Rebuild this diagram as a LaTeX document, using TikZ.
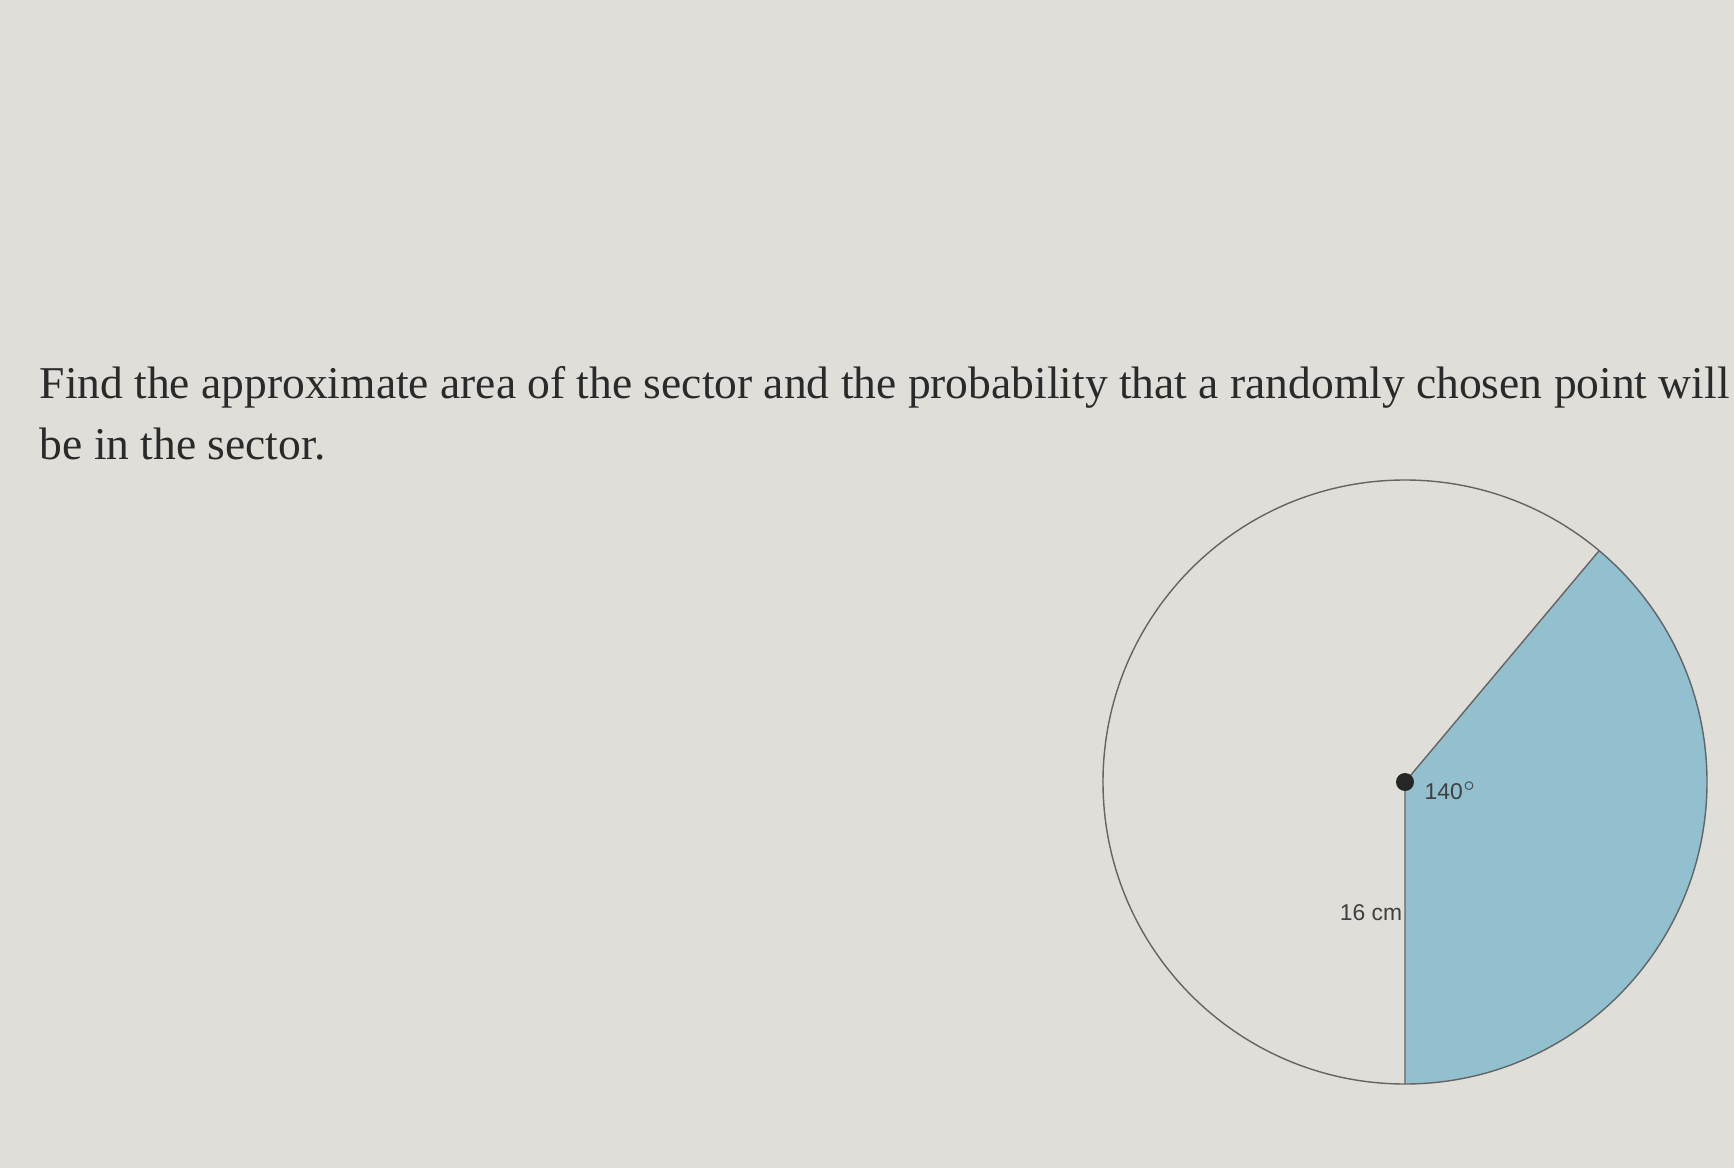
\documentclass[tikz,border=0pt]{standalone}
\usepackage{fontspec}
\setmainfont{Liberation Serif}
\newfontfamily\labelfont{Liberation Sans}
\usepackage{tikz}
\usetikzlibrary{calc}
\definecolor{paper}{RGB}{224,222,217}
\definecolor{sectorblue}{RGB}{146,192,206}
\definecolor{rim}{RGB}{100,100,100}
\definecolor{ink}{RGB}{42,42,42}
\begin{document}
\begin{tikzpicture}
\fill [paper] (0,0) rectangle (17.34,11.68);
\useasboundingbox (0,0) rectangle (17.34,11.68);
\coordinate (O) at (14.05,3.86);
\coordinate (S) at (14.05,0.84);
\coordinate (E) at ($(O)+(50:3.02)$);
\fill [sectorblue] (O) -- (S) arc [start angle=-90, end angle=50, radius=3.02] -- cycle;
\draw [rim, thin] (O) circle (3.02);
\draw [rim, thin] (S) -- (O) -- (E);
\fill [black!85] (O) circle (0.09);
\node [anchor=base west, inner sep=0, text=ink, font=\fontsize{12.95}{15}\selectfont] (line1) at (0.39,7.70) {Find the approximate area of the sector and the probability that a randomly chosen point will};
\node [anchor=base west, inner sep=0, text=ink, font=\fontsize{12.95}{15}\selectfont] (line2) at (0.39,7.09) {be in the sector.};
\node [text=ink!90, font=\labelfont\fontsize{6.5}{8}\selectfont] (angle) at (14.51,3.77) {140$^{\circ}$};
\node [text=ink!90, font=\labelfont\fontsize{6.5}{8}\selectfont] (radius) at (13.71,2.55) {16 cm};
\end{tikzpicture}
\end{document}
